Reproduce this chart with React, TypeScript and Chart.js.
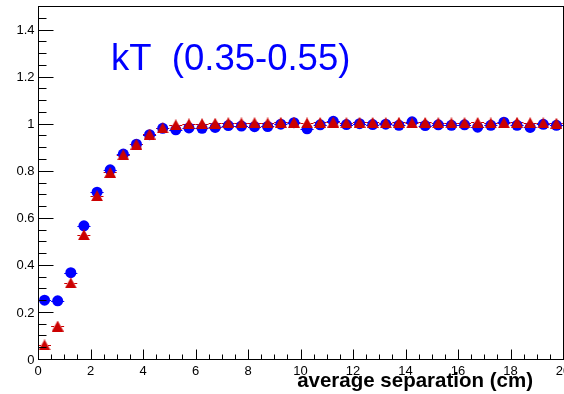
import React, { useEffect, useRef } from "react";
import { Chart, registerables } from "chart.js";

Chart.register(...registerables);

const separations = [
  0.25, 0.75, 1.25, 1.75, 2.25, 2.75, 3.25, 3.75, 4.25, 4.75,
  5.25, 5.75, 6.25, 6.75, 7.25, 7.75, 8.25, 8.75, 9.25, 9.75,
  10.25, 10.75, 11.25, 11.75, 12.25, 12.75, 13.25, 13.75, 14.25, 14.75,
  15.25, 15.75, 16.25, 16.75, 17.25, 17.75, 18.25, 18.75, 19.25, 19.75,
];

const blueValues = [
  0.25, 0.247, 0.367, 0.566, 0.709, 0.804, 0.871, 0.913, 0.953, 0.98,
  0.974, 0.982, 0.98, 0.984, 0.992, 0.99, 0.987, 0.988, 0.998, 1.004,
  0.978, 0.995, 1.01, 0.996, 1.0, 0.996, 0.998, 0.993, 1.008, 0.992,
  0.995, 0.993, 0.995, 0.985, 0.993, 1.006, 0.993, 0.984, 0.997, 0.993,
];

const redValues = [
  0.06, 0.14, 0.323, 0.528, 0.694, 0.793, 0.868, 0.913, 0.956, 0.982,
  0.995, 0.999, 1.0, 1.002, 1.004, 1.003, 1.004, 1.003, 1.006, 1.006,
  1.003, 1.005, 1.007, 1.004, 1.006, 1.005, 1.004, 1.006, 1.003, 1.005,
  1.004, 1.003, 1.004, 1.005, 1.003, 1.004, 1.006, 1.004, 1.003, 1.002,
];

const binHalfWidth = 0.25;

const xTickValues = [0, 2, 4, 6, 8, 10, 12, 14, 16, 18, 20];
const xTickLabels = ["0", "2", "4", "6", "8", "10", "12", "14", "16", "18", "20"];
const yTickValues = [0, 0.2, 0.4, 0.6, 0.8, 1, 1.2, 1.4];
const yTickLabels = ["0", "0.2", "0.4", "0.6", "0.8", "1", "1.2", "1.4"];

const xMin = 0;
const xMax = 20;
const yMin = 0;
const yMax = 1.5;
const xMinorStep = 0.5;
const yMinorStep = 0.05;

const titleText = "kT  (0.35-0.55)";
const xAxisTitle = "average separation (cm)";

const BLUE = "#0000ff";
const RED = "#cc0000";
const FONT = '"Liberation Sans", Arial, Helvetica, sans-serif';

function makeTriangle(color: string, w: number, h: number) {
  const c = document.createElement("canvas");
  c.width = w;
  c.height = h;
  const g = c.getContext("2d")!;
  g.fillStyle = color;
  g.beginPath();
  g.moveTo(0, h);
  g.lineTo(w / 2, 0);
  g.lineTo(w, h);
  g.closePath();
  g.fill();
  return c;
}

const rootStylePlugin = {
  id: "rootStyle",
  beforeDatasetsDraw(chart: any) {
    const { ctx } = chart;
    const xs = chart.scales.x;
    const ys = chart.scales.y;
    ctx.save();
    const drawBars = (vals: number[], color: string, dash: number[]) => {
      ctx.strokeStyle = color;
      ctx.lineWidth = 1;
      ctx.setLineDash(dash);
      vals.forEach((v, i) => {
        const y = Math.round(ys.getPixelForValue(v)) + 0.5;
        ctx.beginPath();
        ctx.moveTo(xs.getPixelForValue(separations[i] - binHalfWidth), y);
        ctx.lineTo(xs.getPixelForValue(separations[i] + binHalfWidth), y);
        ctx.stroke();
      });
    };
    drawBars(blueValues, BLUE, []);
    drawBars(redValues, RED, [3, 2]);
    ctx.restore();
  },
  afterDraw(chart: any) {
    const { ctx, chartArea } = chart;
    const xs = chart.scales.x;
    const ys = chart.scales.y;
    const left = Math.floor(chartArea.left) + 0.5;
    const right = Math.floor(chartArea.right) + 0.5;
    const top = Math.floor(chartArea.top) + 0.5;
    const bottom = Math.floor(chartArea.bottom) + 0.5;
    ctx.save();
    ctx.setLineDash([]);
    ctx.strokeStyle = "#000";
    ctx.lineWidth = 1;
    ctx.strokeRect(left, top, right - left, bottom - top);

    const yMajorLen = 15;
    const yMinorLen = 8;
    ctx.beginPath();
    for (let k = 0; k * yMinorStep <= yMax + 1e-9; k++) {
      const v = k * yMinorStep;
      const isMajor = k % 4 === 0;
      const py = Math.round(ys.getPixelForValue(v)) + 0.5;
      ctx.moveTo(left, py);
      ctx.lineTo(left + (isMajor ? yMajorLen : yMinorLen), py);
    }
    const xMajorLen = 10;
    const xMinorLen = 5;
    for (let k = 0; k * xMinorStep <= xMax + 1e-9; k++) {
      const v = k * xMinorStep;
      const isMajor = k % 4 === 0;
      const px = Math.round(xs.getPixelForValue(v)) + 0.5;
      ctx.moveTo(px, bottom);
      ctx.lineTo(px, bottom - (isMajor ? xMajorLen : xMinorLen));
    }
    ctx.stroke();

    ctx.fillStyle = "#000";
    ctx.font = `13px ${FONT}`;
    ctx.textAlign = "right";
    ctx.textBaseline = "middle";
    yTickValues.forEach((v, i) => {
      ctx.fillText(yTickLabels[i], left - 4, ys.getPixelForValue(v) + 1);
    });
    ctx.textAlign = "center";
    ctx.textBaseline = "alphabetic";
    xTickValues.forEach((v, i) => {
      ctx.fillText(xTickLabels[i], xs.getPixelForValue(v), 375);
    });

    ctx.font = `bold 20.5px ${FONT}`;
    ctx.textAlign = "right";
    ctx.fillText(xAxisTitle, 533, 387);

    ctx.font = `36.5px ${FONT}`;
    ctx.fillStyle = BLUE;
    ctx.textAlign = "left";
    ctx.fillText(titleText, 111, 70);
    ctx.restore();
  },
};

export default function App() {
  const canvasRef = useRef<HTMLCanvasElement | null>(null);

  useEffect(() => {
    if (!canvasRef.current) return;
    const redTriangle = makeTriangle(RED, 12, 11);
    const chart = new Chart(canvasRef.current, {
      type: "scatter",
      data: {
        datasets: [
          {
            label: "red",
            data: separations.map((x, i) => ({ x, y: redValues[i] })),
            pointStyle: redTriangle as any,
            pointRadius: 6,
            pointBorderWidth: 0,
            pointBackgroundColor: RED,
            pointBorderColor: RED,
            backgroundColor: RED,
            borderColor: RED,
            showLine: false,
            order: 0,
            clip: false as any,
          },
          {
            label: "blue",
            data: separations.map((x, i) => ({ x, y: blueValues[i] })),
            pointStyle: "circle",
            pointRadius: 5.5,
            pointBorderWidth: 0,
            pointBackgroundColor: BLUE,
            pointBorderColor: BLUE,
            backgroundColor: BLUE,
            borderColor: BLUE,
            showLine: false,
            order: 1,
            clip: false as any,
          },
        ],
      },
      options: {
        responsive: false,
        animation: false,
        devicePixelRatio: 1,
        layout: { autoPadding: false, padding: { left: 38, top: 6, right: 1, bottom: 35 } },
        plugins: {
          legend: { display: false },
          tooltip: { enabled: false },
          title: { display: false },
        },
        scales: {
          x: { type: "linear", min: xMin, max: xMax, display: false },
          y: { type: "linear", min: yMin, max: yMax, display: false },
        },
      },
      plugins: [rootStylePlugin],
    });
    return () => chart.destroy();
  }, []);

  return (
    <div style={{ position: "absolute", left: 0, top: 0, width: 564, height: 394, background: "#fff" }}>
      <canvas ref={canvasRef} width={564} height={394} style={{ display: "block" }} />
    </div>
  );
}
